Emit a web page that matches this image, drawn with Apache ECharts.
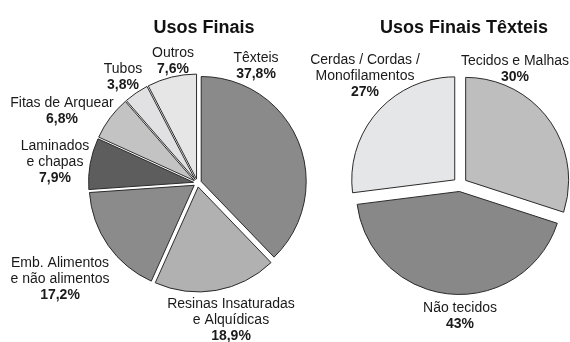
<!DOCTYPE html>
<html>
<head>
<meta charset="utf-8">
<script src="https://cdn.jsdelivr.net/npm/echarts@6/dist/echarts.min.js"></script>
<style>
  html, body { margin: 0; padding: 0; background: #ffffff; }
  #chart { width: 570px; height: 342px; }
</style>
</head>
<body>
<div id="chart"></div>
<script>
// End uses of polyester (share, %)
const usesNames = ['Têxteis', 'Resinas Insaturadas\ne Alquídicas', 'Emb. Alimentos\ne não alimentos',
                   'Laminados\ne chapas', 'Fitas de Arquear', 'Tubos', 'Outros'];
const usesValues = [37.8, 18.9, 17.2, 7.9, 6.8, 3.8, 7.6];

// Textile end uses (share, %)
const textileNames = ['Tecidos e Malhas', 'Não tecidos', 'Cerdas / Cordas /\nMonofilamentos'];
const textileValues = [30, 43, 27];

const titles = ['Usos Finais', 'Usos Finais Têxteis'];

// slice fills and label anchors (styling / layout)
const usesColors = ['#8a8a8a', '#b1b1b1', '#8b8b8b', '#5d5d5d', '#c3c3c3', '#e1e1e3', '#e6e6e6'];
const textileColors = ['#bebebe', '#888888', '#e5e6e8'];
const usesLabelPos = [[256, 66], [231, 320], [60, 279], [55, 162], [62, 111], [123, 77], [173, 61]];
const textileLabelPos = [[515, 69], [460, 316], [365, 76]];

const FONT = 'Liberation Sans, Arial, sans-serif';
const fmtPct = (v, decimals) => v.toFixed(decimals).replace('.', ',') + '%';

function buildData(names, values, colors) {
  return names.map((n, i) => ({
    name: n,
    value: values[i],
    selected: true,
    itemStyle: { color: colors[i] },
    select: { itemStyle: { color: colors[i], borderColor: '#2b2b2b', borderWidth: 1 } }
  }));
}

// category name (regular) over its share (bold), centred on an anchor
function buildLabels(names, values, positions, decimals) {
  return names.map((n, i) => ({
    type: 'text',
    x: positions[i][0],
    y: positions[i][1],
    silent: true,
    style: {
      text: '{n|' + n.split('\n').join('}\n{n|') + '}\n{v|' + fmtPct(values[i], decimals) + '}',
      align: 'center',
      verticalAlign: 'middle',
      rich: {
        n: { fontFamily: FONT, fontSize: 14, fill: '#1a1a1a', lineHeight: 16, align: 'center' },
        v: { fontFamily: FONT, fontSize: 14, fontWeight: 'bold', fill: '#1a1a1a', lineHeight: 16, align: 'center' }
      }
    }
  }));
}

// exploded pie: every slice is pre-selected so it is pushed out by `offset`
function pieSeries(data, center, radius, offset) {
  return {
    type: 'pie',
    center: center,
    radius: radius,
    startAngle: 90,
    clockwise: true,
    selectedMode: 'multiple',
    selectedOffset: offset,
    animation: false,
    silent: true,
    itemStyle: { borderColor: '#2b2b2b', borderWidth: 1 },
    emphasis: { disabled: true },
    label: { show: false },
    labelLine: { show: false },
    data: data
  };
}

const chart = echarts.init(document.getElementById('chart'), null, { renderer: 'canvas' });
chart.setOption({
  backgroundColor: '#ffffff',
  title: [
    { text: titles[0], left: 199, top: 14, textAlign: 'center',
      textStyle: { fontFamily: FONT, fontSize: 18, fontWeight: 'bold', color: '#111' } },
    { text: titles[1], left: 459, top: 14, textAlign: 'center',
      textStyle: { fontFamily: FONT, fontSize: 18, fontWeight: 'bold', color: '#111' } }
  ],
  graphic: buildLabels(usesNames, usesValues, usesLabelPos, 1)
    .concat(buildLabels(textileNames, textileValues, textileLabelPos, 0)),
  series: [
    pieSeries(buildData(usesNames, usesValues, usesColors), [197.5, 183], 105, 4),
    pieSeries(buildData(textileNames, textileValues, textileColors), [460, 184.5], 103, 7)
  ]
});
</script>
</body>
</html>
